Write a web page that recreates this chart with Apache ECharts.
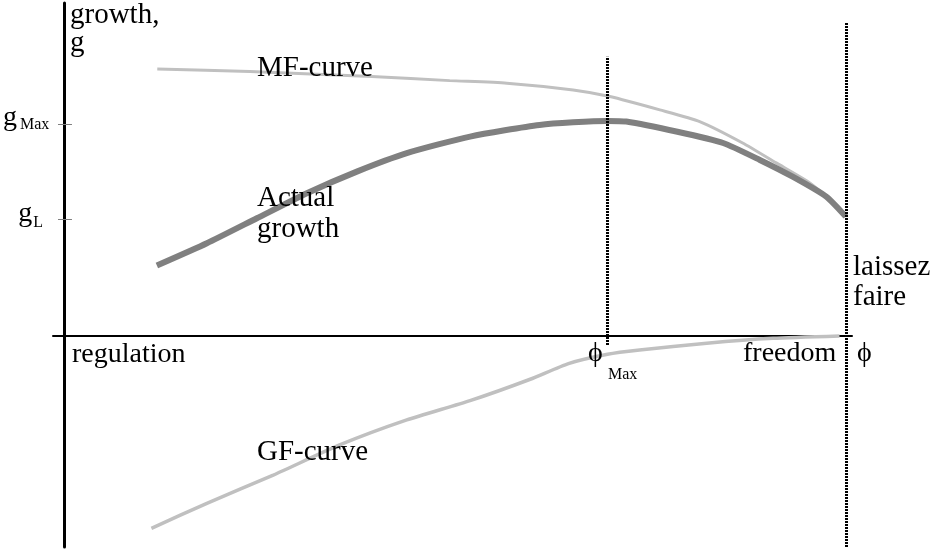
<!DOCTYPE html>
<html>
<head>
<meta charset="utf-8">
<title>growth vs freedom</title>
<script src="https://cdn.jsdelivr.net/npm/echarts@6/dist/echarts.min.js"></script>
<style>
  html, body { margin: 0; padding: 0; background: #fff; }
  #chart { width: 932px; height: 555px; }
</style>
</head>
<body>
<div id="chart"></div>
<script>
// freedom (phi) values, 0 = regulation, 100 = laissez faire
const phiMF = [11.85, 23.7, 39.3, 49.3, 56.6, 65.1, 69.8, 76.2, 81.3, 86.8, 91.1, 95.4, 99.2, 100]
const gMF = [125.9, 124.7, 122.3, 120.4, 119.2, 116.0, 112.9, 106.6, 101.1, 91.0, 81.6, 72.2, 60.4, 56.1]

const phiActual = [11.8, 18.2, 24.6, 31.0, 37.4, 43.8, 51.9, 60.8, 69.4, 71.9, 78.3, 84.3, 89.0, 93.2, 97.5, 100]
const gActual = [33.2, 43.7, 55.5, 67.3, 77.5, 86.2, 94.0, 99.5, 101.4, 101.1, 96.4, 91.0, 83.0, 75.1, 65.7, 56.3]

const phiGF = [11.1, 18.2, 26.7, 35.2, 43.8, 51.9, 59.6, 64.5, 69.5, 73.6, 82.2, 90.7, 99.2]
const gGF = [-90.7, -78.9, -65.6, -51.4, -39.6, -30.5, -20.4, -13.0, -8.6, -6.6, -3.4, -1.1, 0]

// y axis tick values and their subscripts
const gTicks = [100, 55]
const gTickLabels = ['Max', 'L']

// vertical dotted markers: phi position, bottom g, top g
const phiMarkers = [69.5, 100]
const markerBottom = [-4.2, -99.5]
const markerTop = [131.6, 148]

const serif = '"Liberation Serif", "DejaVu Serif", serif'

const zip = (xs, ys) => xs.map((x, i) => [x, ys[i]])

const chart = echarts.init(document.getElementById('chart'), null, { renderer: 'canvas' })

// small text helper for graphic annotations
function txt(text, x, y, size, extra) {
  return {
    type: 'text',
    x: x,
    y: y,
    z: 100,
    style: Object.assign({
      text: text,
      fontFamily: serif,
      fontSize: size,
      fill: '#000',
      align: 'left',
      verticalAlign: 'top'
    }, extra || {})
  }
}

const curve = {
  type: 'line',
  smooth: 0.2,
  symbol: 'none',
  silent: true
}

const option = {
  animation: false,
  backgroundColor: '#fff',
  grid: { left: 53, right: 80, top: 3, bottom: 8 },
  xAxis: {
    type: 'value',
    min: -1.5,
    max: 100.8,
    axisLine: { onZero: true, lineStyle: { color: '#000', width: 2 } },
    axisTick: { show: false },
    axisLabel: { show: false },
    splitLine: { show: false }
  },
  yAxis: {
    type: 'value',
    min: -99.5,
    max: 157,
    axisLine: { onZero: true, lineStyle: { color: '#000', width: 3 } },
    axisTick: { show: false },
    axisLabel: { show: false },
    splitLine: { show: false }
  },
  series: [
    {
      ...curve,
      name: 'MF-curve',
      z: 2,
      lineStyle: { color: '#c0c0c0', width: 3 },
      data: zip(phiMF, gMF)
    },
    {
      ...curve,
      name: 'GF-curve',
      z: 2,
      lineStyle: { color: '#c0c0c0', width: 3.5 },
      data: zip(phiGF, gGF)
    },
    {
      ...curve,
      name: 'Actual growth',
      z: 3,
      lineStyle: { color: '#808080', width: 6 },
      data: zip(phiActual, gActual),
      // tick marks on the g axis + dotted phi markers
      markLine: {
        silent: true,
        symbol: ['none', 'none'],
        label: { show: false },
        data: gTicks.map(v => [
          { coord: [-0.86, v], lineStyle: { color: '#808080', width: 1, type: 'solid' } },
          { coord: [0.93, v] }
        ]).concat(phiMarkers.map((p, i) => [
          { coord: [p, markerBottom[i]], lineStyle: { color: '#000', width: 3, type: [2, 1] } },
          { coord: [p, markerTop[i]] }
        ]))
      }
    }
  ],
  graphic: [
    txt('growth,\ng', 70, 1.5, 29, { lineHeight: 28 }),
    txt('MF-curve', 257, 53.5, 29),
    txt('Actual\ngrowth', 257, 183, 29, { lineHeight: 31 }),
    txt('laissez\nfaire', 853, 252.5, 29, { lineHeight: 30 }),
    txt('regulation', 72, 341, 28),
    txt('freedom', 743, 340, 28),
    txt('\u03d5', 857, 340, 28),
    txt('\u03d5', 588, 340, 28),
    txt('Max', 608, 366.5, 16),
    txt('GF-curve', 257, 438, 29),
    // g axis tick labels
    txt('g', 3, 104, 28),
    txt(gTickLabels[0], 20, 117, 16),
    txt('g', 18.3, 200, 28),
    txt(gTickLabels[1], 33.3, 214.5, 16)
  ]
}

chart.setOption(option)
</script>
</body>
</html>
